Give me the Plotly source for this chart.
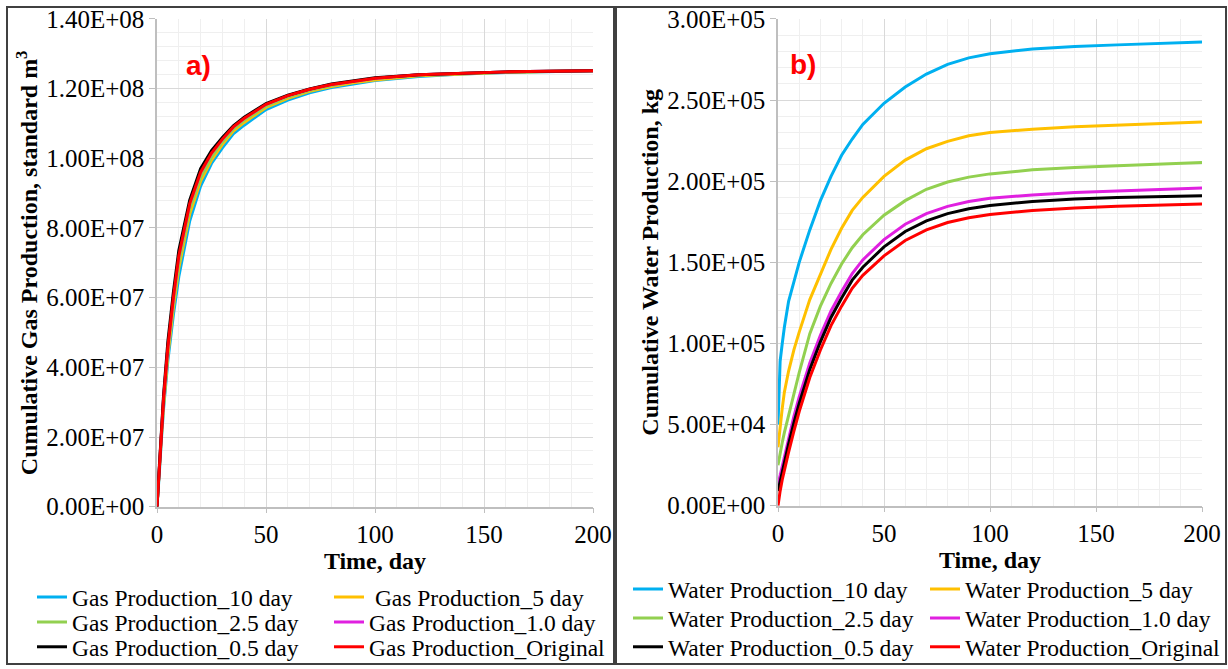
import plotly.graph_objects as go

# ---------------- data ----------------
time_days = [0, 0.5, 1, 2, 3, 5, 7.5, 10, 15, 20, 25, 30, 35, 40, 50, 60, 70, 80, 90, 100, 120, 140, 160, 180, 200]

gas_10 = [0, 4.0e6, 9.0e6, 1.9e7, 2.8e7, 4.2e7, 5.5e7, 6.6e7, 8.2e7, 9.2e7, 9.85e7, 1.03e8, 1.07e8, 1.095e8, 1.14e8, 1.167e8, 1.188e8, 1.203e8, 1.214e8, 1.223e8, 1.235e8, 1.242e8, 1.246e8, 1.249e8, 1.251e8]
gas_5 = [0, 4.3e6, 9.5e6, 2.0e7, 2.9e7, 4.35e7, 5.7e7, 6.85e7, 8.4e7, 9.35e7, 9.95e7, 1.04e8, 1.078e8, 1.103e8, 1.146e8, 1.172e8, 1.192e8, 1.206e8, 1.217e8, 1.225e8, 1.237e8, 1.243e8, 1.247e8, 1.249e8, 1.251e8]
gas_2_5 = [0, 4.6e6, 1.0e7, 2.1e7, 3.0e7, 4.5e7, 5.85e7, 7.0e7, 8.55e7, 9.45e7, 1.003e8, 1.047e8, 1.084e8, 1.109e8, 1.15e8, 1.176e8, 1.195e8, 1.209e8, 1.22e8, 1.228e8, 1.239e8, 1.244e8, 1.248e8, 1.25e8, 1.251e8]
gas_1_0 = [0, 5.0e6, 1.05e7, 2.2e7, 3.1e7, 4.6e7, 6.0e7, 7.2e7, 8.7e7, 9.6e7, 1.015e8, 1.055e8, 1.09e8, 1.115e8, 1.155e8, 1.18e8, 1.198e8, 1.212e8, 1.222e8, 1.23e8, 1.24e8, 1.245e8, 1.248e8, 1.25e8, 1.251e8]
gas_0_5 = [0, 5.3e6, 1.1e7, 2.3e7, 3.2e7, 4.75e7, 6.15e7, 7.35e7, 8.8e7, 9.7e7, 1.022e8, 1.06e8, 1.093e8, 1.118e8, 1.157e8, 1.181e8, 1.199e8, 1.213e8, 1.223e8, 1.231e8, 1.24e8, 1.245e8, 1.248e8, 1.25e8, 1.251e8]
gas_orig = [0, 5.0e6, 1.05e7, 2.2e7, 3.1e7, 4.6e7, 6.0e7, 7.2e7, 8.7e7, 9.6e7, 1.015e8, 1.055e8, 1.09e8, 1.115e8, 1.155e8, 1.18e8, 1.198e8, 1.212e8, 1.222e8, 1.23e8, 1.24e8, 1.245e8, 1.248e8, 1.25e8, 1.251e8]

water_10 = [5.0e4, 8.0e4, 8.9e4, 1.0e5, 1.1e5, 1.26e5, 1.38e5, 1.5e5, 1.7e5, 1.88e5, 2.03e5, 2.16e5, 2.26e5, 2.35e5, 2.48e5, 2.58e5, 2.66e5, 2.72e5, 2.76e5, 2.785e5, 2.815e5, 2.83e5, 2.84e5, 2.85e5, 2.857e5]
water_5 = [3.6e4, 4.3e4, 4.9e4, 6.0e4, 7.0e4, 8.3e4, 9.6e4, 1.07e5, 1.27e5, 1.43e5, 1.58e5, 1.71e5, 1.82e5, 1.9e5, 2.03e5, 2.13e5, 2.2e5, 2.245e5, 2.28e5, 2.3e5, 2.32e5, 2.335e5, 2.345e5, 2.355e5, 2.365e5]
water_2_5 = [2.5e4, 2.9e4, 3.3e4, 3.9e4, 4.5e4, 5.6e4, 6.9e4, 8.2e4, 1.06e5, 1.23e5, 1.37e5, 1.49e5, 1.59e5, 1.67e5, 1.79e5, 1.88e5, 1.95e5, 1.995e5, 2.025e5, 2.045e5, 2.07e5, 2.085e5, 2.095e5, 2.105e5, 2.115e5]
water_1_0 = [1.3e4, 1.6e4, 1.9e4, 2.5e4, 3.1e4, 4.1e4, 5.5e4, 6.7e4, 8.8e4, 1.05e5, 1.2e5, 1.32e5, 1.43e5, 1.515e5, 1.64e5, 1.735e5, 1.8e5, 1.845e5, 1.875e5, 1.895e5, 1.915e5, 1.93e5, 1.94e5, 1.95e5, 1.958e5]
water_0_5 = [9.0e3, 1.2e4, 1.5e4, 2.1e4, 2.7e4, 3.8e4, 5.1e4, 6.3e4, 8.4e4, 1.01e5, 1.16e5, 1.28e5, 1.39e5, 1.47e5, 1.595e5, 1.69e5, 1.755e5, 1.8e5, 1.83e5, 1.85e5, 1.875e5, 1.89e5, 1.9e5, 1.905e5, 1.91e5]
water_orig = [0, 5.0e3, 9.0e3, 1.6e4, 2.2e4, 3.3e4, 4.6e4, 5.8e4, 7.9e4, 9.6e4, 1.11e5, 1.23e5, 1.34e5, 1.42e5, 1.54e5, 1.635e5, 1.7e5, 1.745e5, 1.775e5, 1.795e5, 1.82e5, 1.835e5, 1.845e5, 1.853e5, 1.86e5]

gas_names = ["Gas Production_10 day", " Gas Production_5 day", "Gas Production_2.5 day",
             "Gas Production_1.0 day", "Gas Production_0.5 day", "Gas Production_Original"]
water_names = ["Water Production_10 day", "Water Production_5 day", "Water Production_2.5 day",
               "Water Production_1.0 day", "Water Production_0.5 day", "Water Production_Original"]
gas_series = [gas_10, gas_5, gas_2_5, gas_1_0, gas_0_5, gas_orig]
water_series = [water_10, water_5, water_2_5, water_1_0, water_0_5, water_orig]
colors = ["#00B0F0", "#FFC000", "#92D050", "#E020E0", "#000000", "#FF0000"]

x_ticks = [0, 50, 100, 150, 200]
gas_ticks = [0, 2e7, 4e7, 6e7, 8e7, 1e8, 1.2e8, 1.4e8]
water_ticks = [0, 5e4, 1e5, 1.5e5, 2e5, 2.5e5, 3e5]

# ---------------- figure ----------------
W, H = 1228, 669
SERIF = "Liberation Serif, Times New Roman, serif"

fig = go.Figure()

gas_legends = ["legend", "legend", "legend2", "legend2", "legend3", "legend3"]
water_legends = ["legend4", "legend4", "legend5", "legend5", "legend6", "legend6"]

for i in range(6):
    fig.add_trace(go.Scatter(x=time_days, y=gas_series[i], name=gas_names[i], mode="lines",
                             line=dict(color=colors[i], width=3), xaxis="x", yaxis="y",
                             legend=gas_legends[i]))
for i in range(6):
    fig.add_trace(go.Scatter(x=time_days, y=water_series[i], name=water_names[i], mode="lines",
                             line=dict(color=colors[i], width=3), xaxis="x2", yaxis="y2",
                             legend=water_legends[i]))

def px_x(p):
    return p / W

def px_y(p):
    return 1 - p / H

grid_major = "#D9D9D9"
grid_minor = "#EFEFEF"
axis_col = "#BFBFBF"
TICK_SIZE = 25

def xaxis_cfg(domain, anchor):
    return dict(domain=domain, anchor=anchor, range=[0, 200], tickvals=x_ticks,
                ticktext=[str(v) for v in x_ticks], showgrid=True, gridcolor=grid_major, gridwidth=1,
                minor=dict(dtick=10, showgrid=True, gridcolor=grid_minor, gridwidth=1, ticks=""),
                showline=True, linecolor=axis_col, linewidth=1.5, ticks="outside", ticklen=5,
                tickcolor=axis_col, tickfont=dict(family=SERIF, size=TICK_SIZE, color="black"),
                title=dict(text="<b>Time, day</b>", font=dict(family=SERIF, size=24, color="black"), standoff=2),
                zeroline=False, fixedrange=True, automargin=False)

def yaxis_cfg(domain, anchor, ticks, rng, minor_dtick, title):
    return dict(domain=domain, anchor=anchor, range=rng, tickvals=ticks,
                ticktext=[f"{v:.2E}" for v in ticks], showgrid=True, gridcolor=grid_major, gridwidth=1,
                minor=dict(dtick=minor_dtick, showgrid=True, gridcolor=grid_minor, gridwidth=1, ticks=""),
                showline=True, linecolor=axis_col, linewidth=1.5, ticks="outside", ticklen=6,
                tickcolor=axis_col, tickfont=dict(family=SERIF, size=TICK_SIZE, color="black"),
                title=dict(text=title, font=dict(family=SERIF, size=24, color="black"), standoff=2),
                zeroline=False, fixedrange=True, automargin=False)

legend_font = dict(family=SERIF, size=23.5, color="black")

def leg(xpx, ypx, entry):
    return dict(orientation="h", x=px_x(xpx), y=px_y(ypx), xanchor="left", yanchor="middle",
                font=legend_font, bgcolor="rgba(0,0,0,0)", borderwidth=0,
                entrywidth=entry, entrywidthmode="pixels", itemwidth=30, tracegroupgap=0)

fig.update_layout(
    width=W, height=H,
    margin=dict(l=0, r=0, t=0, b=0),
    paper_bgcolor="white", plot_bgcolor="white",
    xaxis=xaxis_cfg([px_x(157), px_x(593)], "y"),
    yaxis=yaxis_cfg([px_y(509), px_y(19)], "x", gas_ticks, [0, 1.4e8], 4e6,
                    "<b>Cumulative Gas Production, standard m<sup>3</sup></b>"),
    xaxis2=xaxis_cfg([px_x(778), px_x(1202)], "y2"),
    yaxis2=yaxis_cfg([px_y(508), px_y(19)], "x2", water_ticks, [0, 3e5], 1e4,
                     "<b>Cumulative Water Production, kg</b>"),
    legend=leg(32, 600, 252),
    legend2=leg(32, 625, 252),
    legend3=leg(32, 650, 252),
    legend4=leg(628, 592, 252),
    legend5=leg(628, 621, 252),
    legend6=leg(628, 650, 252),
    showlegend=True,
    annotations=[
        dict(text="<b>a)</b>", x=px_x(184), y=px_y(48), xref="paper", yref="paper",
             showarrow=False, font=dict(family="Liberation Sans, Arial, sans-serif", size=28, color="#FF0000")),
        dict(text="<b>b)</b>", x=px_x(803), y=px_y(47), xref="paper", yref="paper",
             showarrow=False, font=dict(family="Liberation Sans, Arial, sans-serif", size=28, color="#FF0000")),
    ],
    shapes=[
        dict(type="rect", xref="paper", yref="paper", x0=px_x(7), x1=px_x(614), y0=px_y(667), y1=px_y(7),
             line=dict(color="#404040", width=2), fillcolor="rgba(0,0,0,0)", layer="above"),
        dict(type="rect", xref="paper", yref="paper", x0=px_x(616), x1=px_x(1226), y0=px_y(667), y1=px_y(7),
             line=dict(color="#404040", width=2), fillcolor="rgba(0,0,0,0)", layer="above"),
    ],
)

fig.write_html("out.html", config={"displayModeBar": False},
               post_script="document.body.style.margin='0';document.body.style.overflow='hidden';")
